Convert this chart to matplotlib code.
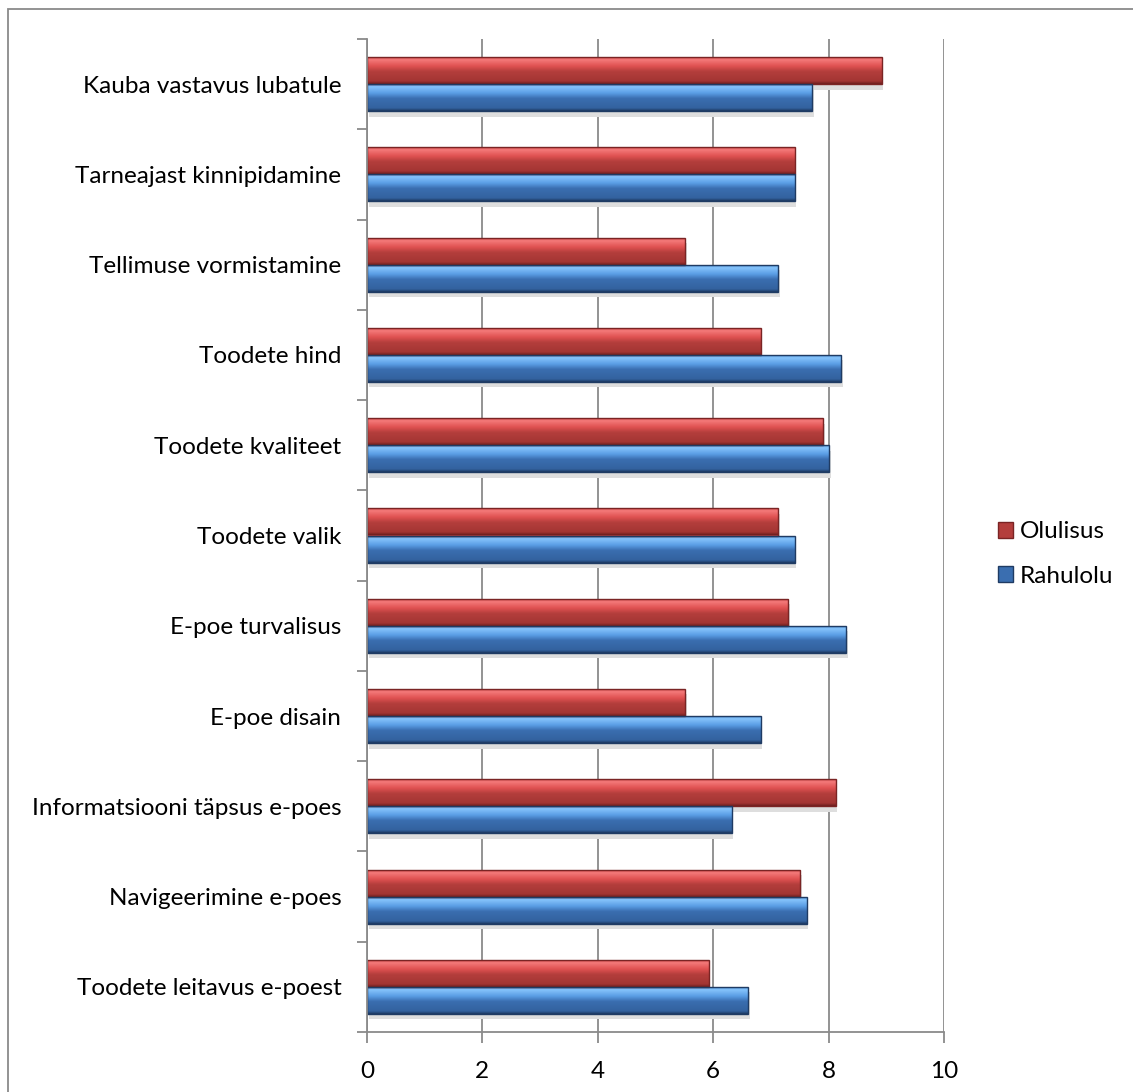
import numpy as np
import matplotlib.pyplot as plt
from matplotlib.colors import LinearSegmentedColormap
from matplotlib.patches import Rectangle, Patch

# categories listed top to bottom as in the chart
categories = [
    "Kauba vastavus lubatule",
    "Tarneajast kinnipidamine",
    "Tellimuse vormistamine",
    "Toodete hind",
    "Toodete kvaliteet",
    "Toodete valik",
    "E-poe turvalisus",
    "E-poe disain",
    "Informatsiooni täpsus e-poes",
    "Navigeerimine e-poes",
    "Toodete leitavus e-poest",
]
olulisus = [8.92, 7.41, 5.51, 6.82, 7.90, 7.12, 7.30, 5.51, 8.12, 7.51, 5.92]
rahulolu = [7.71, 7.41, 7.12, 8.22, 8.01, 7.41, 8.31, 6.82, 6.32, 7.62, 6.60]
series_names = ["Olulisus", "Rahulolu"]
xticks = [0, 2, 4, 6, 8, 10]

plt.rcParams['font.family'] = ['Lato', 'DejaVu Sans']
FS = 17.5
GRAY = '#8a8a8a'

W, H = 1133, 1092
fig = plt.figure(figsize=(W / 100, H / 100), dpi=100)
ax = fig.add_axes([367 / W, 1 - 1032 / H, (944 - 367) / W, (1032 - 39) / H])

n = len(categories)
y = np.arange(n)[::-1]  # first category on top
bh = 0.3

# gradient colour ramps, top -> bottom of a bar
red_cmap = LinearSegmentedColormap.from_list('r', [
    (0.0, '#c23a3a'), (0.12, '#f47a7a'), (0.35, '#e05252'),
    (0.55, '#b43e3c'), (0.9, '#a33533'), (1.0, '#6e1f1f')])
blue_cmap = LinearSegmentedColormap.from_list('b', [
    (0.0, '#3d7cc8'), (0.12, '#86c4fb'), (0.35, '#5b9fe6'),
    (0.55, '#3a6eb0'), (0.9, '#33629f'), (1.0, '#1d3a63')])

grad = np.linspace(1, 0, 64).reshape(-1, 1)


def gradient_bars(ypos, vals, cmap, edge):
    bars = ax.barh(ypos, vals, height=bh, color=cmap(0.6), edgecolor='none', zorder=3)
    for b in bars:
        x0, y0 = b.get_x(), b.get_y()
        w, h = b.get_width(), b.get_height()
        # soft shadow under each bar
        ax.add_patch(Rectangle((x0 + 0.03, y0 - 0.06), w, h, facecolor='#dedede',
                               edgecolor='none', zorder=2))
        im = ax.imshow(grad, cmap=cmap, extent=[x0, x0 + w, y0 + h, y0],
                       aspect='auto', zorder=3.5, interpolation='bilinear',
                       vmin=0, vmax=1)
        im.set_clip_path(b)
        ax.add_patch(Rectangle((x0, y0), w, h, fill=False, edgecolor=edge,
                               linewidth=1.0, zorder=4))
    return bars


gradient_bars(y + bh / 2, olulisus, red_cmap, '#7a2424')
gradient_bars(y - bh / 2, rahulolu, blue_cmap, '#1f3b63')

ax.set_xlim(0, 10)
ax.set_ylim(-0.5, n - 0.5)
ax.set_xticks(xticks)
ax.set_xticklabels([str(t) for t in xticks], fontsize=FS)
ax.set_yticks(y)
ax.set_yticklabels(categories, fontsize=FS)
ax.set_yticks(np.arange(-0.5, n, 1.0), minor=True)

ax.tick_params(axis='y', which='major', length=0, pad=18.5)
ax.tick_params(axis='y', which='minor', length=7, width=1.3, color=GRAY, direction='out')
ax.tick_params(axis='x', which='major', length=8, width=1.3, color=GRAY,
               direction='out', pad=13)

ax.xaxis.grid(True, color=GRAY, linewidth=1.3, zorder=1)
ax.set_axisbelow(True)
for s in ['top', 'right']:
    ax.spines[s].set_visible(False)
for s in ['left', 'bottom']:
    ax.spines[s].set_color(GRAY)
    ax.spines[s].set_linewidth(1.3)
    ax.spines[s].set_zorder(5)

handles = [Patch(facecolor=red_cmap(0.55), edgecolor='#7a2424'),
           Patch(facecolor=blue_cmap(0.55), edgecolor='#1f3b63')]
fig.legend(handles, series_names, loc='center left',
           bbox_to_anchor=(998 / W, 1 - 554 / H), frameon=False, fontsize=FS,
           handlelength=0.6, handleheight=0.6, handletextpad=0.3,
           labelspacing=0.95, borderpad=0, borderaxespad=0)

# outer chart border
fig.patches.append(Rectangle((8 / W, -0.02), 1.0, 1 - 9 / H + 0.02,
                             transform=fig.transFigure, fill=False,
                             edgecolor=GRAY, linewidth=1.3))

fig.savefig('out.png', dpi=100)
